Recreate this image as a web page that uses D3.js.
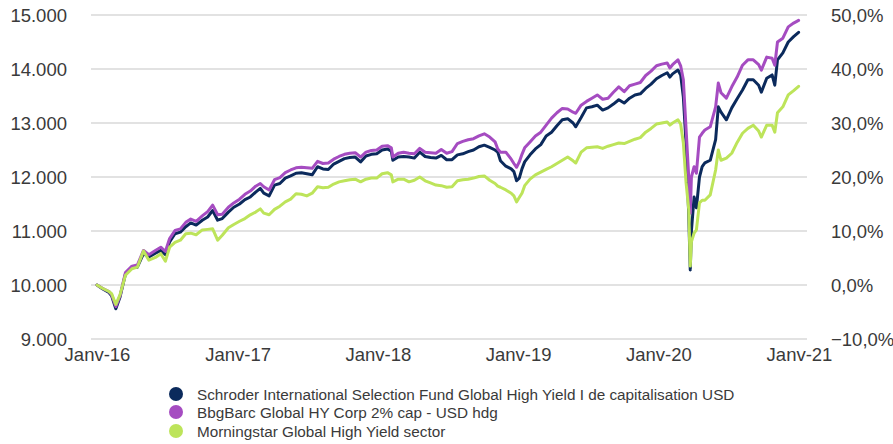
<!DOCTYPE html>
<html>
<head>
<meta charset="utf-8">
<script src="https://cdn.jsdelivr.net/npm/d3@7/dist/d3.min.js"></script>
<style>
  html, body { margin: 0; padding: 0; background: #ffffff; }
  svg { display: block; font-family: "Liberation Sans", Arial, sans-serif; }
</style>
</head>
<body>
<svg id="chart" width="893" height="444"></svg>
<script>
const dates = [
  "2016-01-01","2016-01-15","2016-02-01","2016-02-08","2016-02-19","2016-03-01","2016-03-15","2016-04-01","2016-04-15","2016-05-01",
  "2016-05-15","2016-06-01","2016-06-15","2016-06-27","2016-07-08","2016-07-22","2016-08-05","2016-08-19","2016-09-01","2016-09-15",
  "2016-10-01","2016-10-15","2016-10-28","2016-11-10","2016-11-22","2016-12-08","2016-12-22",
  "2017-01-06","2017-01-20","2017-02-03","2017-02-17","2017-03-01","2017-03-10","2017-03-24","2017-04-07","2017-04-21","2017-05-05",
  "2017-05-19","2017-06-02","2017-06-16","2017-06-30","2017-07-14","2017-07-28","2017-08-11","2017-08-25","2017-09-08","2017-09-22",
  "2017-10-06","2017-10-20","2017-11-03","2017-11-17","2017-12-01","2017-12-15","2017-12-29",
  "2018-01-12","2018-01-26","2018-02-05","2018-02-09","2018-02-23","2018-03-09","2018-03-23","2018-04-06","2018-04-20","2018-05-04",
  "2018-05-18","2018-06-01","2018-06-15","2018-06-29","2018-07-13","2018-07-27","2018-08-10","2018-08-24","2018-09-07","2018-09-21",
  "2018-10-05","2018-10-19","2018-11-02","2018-11-09","2018-11-16","2018-11-30","2018-12-14","2018-12-21","2018-12-28",
  "2019-01-04","2019-01-11","2019-01-18","2019-02-01","2019-02-15","2019-03-01","2019-03-15","2019-03-29","2019-04-12","2019-04-26",
  "2019-05-10","2019-05-24","2019-05-31","2019-06-14","2019-06-28","2019-07-12","2019-07-26","2019-08-09","2019-08-23","2019-09-06",
  "2019-09-20","2019-10-04","2019-10-18","2019-11-01","2019-11-15","2019-11-29","2019-12-13","2019-12-27",
  "2020-01-10","2020-01-24","2020-01-31","2020-02-07","2020-02-21","2020-02-28","2020-03-06","2020-03-13","2020-03-20","2020-03-24",
  "2020-03-27","2020-04-03","2020-04-09","2020-04-17","2020-04-24","2020-05-01","2020-05-15","2020-05-29","2020-06-05","2020-06-12",
  "2020-06-26","2020-07-10","2020-07-24","2020-08-07","2020-08-21","2020-09-04","2020-09-18","2020-09-25","2020-10-09","2020-10-23",
  "2020-10-30","2020-11-06","2020-11-20","2020-12-04","2020-12-18","2020-12-31"
];

const schroder = [
  10000,9930,9860,9800,9560,9780,10200,10330,10330,10580,
  10520,10590,10640,10560,10800,10950,10980,11080,11150,11110,
  11200,11260,11380,11200,11230,11350,11440,
  11500,11580,11630,11720,11790,11700,11650,11850,11880,11980,
  12020,12070,12080,12060,12040,12190,12150,12140,12240,12290,
  12340,12360,12370,12280,12390,12420,12430,
  12500,12520,12480,12310,12370,12380,12370,12350,12460,12380,
  12360,12350,12400,12320,12320,12410,12430,12470,12500,12560,
  12590,12550,12500,12460,12300,12200,12150,12100,11930,
  11980,12150,12280,12410,12520,12600,12760,12830,12950,13060,
  13080,13000,12930,13100,13280,13300,13330,13240,13280,13350,
  13430,13370,13460,13520,13540,13640,13720,13820,
  13880,13930,13850,13910,13980,13890,13480,12630,11300,10280,
  11000,11630,11430,12000,12190,12260,12310,12690,13300,13200,
  13060,13280,13450,13610,13800,13800,13700,13570,13830,13890,
  13700,14170,14300,14500,14600,14680
];

const bbgBarc = [
  10000,9940,9880,9820,9600,9800,10230,10350,10370,10640,
  10560,10640,10700,10620,10860,11010,11040,11160,11220,11180,
  11280,11360,11480,11300,11310,11440,11520,
  11590,11680,11740,11830,11880,11820,11760,11950,11990,12080,
  12130,12170,12180,12170,12160,12290,12250,12260,12330,12380,
  12420,12440,12450,12370,12460,12490,12500,
  12570,12580,12540,12370,12440,12460,12440,12430,12530,12460,
  12450,12440,12510,12440,12470,12620,12660,12690,12710,12760,
  12800,12740,12650,12520,12460,12460,12330,12250,12180,
  12280,12420,12540,12650,12760,12830,12960,13090,13190,13270,
  13260,13200,13180,13330,13400,13460,13520,13440,13460,13570,
  13670,13580,13690,13720,13750,13880,13960,14060,
  14090,14110,14020,14080,14170,14060,13800,12900,12000,11330,
  12000,12190,12070,12740,12810,12870,12930,13300,13740,13560,
  13460,13670,13850,14070,14170,14170,14080,13980,14220,14200,
  14070,14500,14570,14780,14850,14900
];

const morningstar = [
  10000,9940,9880,9840,9640,9820,10180,10300,10330,10630,
  10460,10510,10580,10440,10700,10790,10830,10950,10960,10930,
  11020,11030,11040,10830,10920,11060,11120,
  11180,11230,11300,11350,11410,11330,11300,11400,11460,11540,
  11590,11690,11680,11650,11700,11820,11800,11810,11870,11910,
  11930,11950,11960,11910,11960,11980,11980,
  12060,12080,12040,11910,11960,11960,11910,11940,12000,11930,
  11890,11850,11840,11810,11820,11930,11950,11960,11980,12010,
  12020,11940,11880,11830,11810,11760,11700,11650,11540,
  11620,11700,11840,11960,12040,12090,12140,12190,12250,12310,
  12370,12300,12260,12460,12540,12550,12560,12530,12570,12600,
  12630,12620,12660,12700,12730,12830,12900,12980,
  13000,13020,12960,13000,13060,12980,12630,11900,11400,10350,
  10800,10960,11020,11520,11570,11570,11670,12130,12500,12310,
  12350,12440,12640,12810,12900,12960,12850,12740,12960,12960,
  12830,13190,13300,13520,13600,13680
];

const leftTicks = [9000, 10000, 11000, 12000, 13000, 14000, 15000];
const rightTicks = [-10, 0, 10, 20, 30, 40, 50];
const xTickLabels = ["Janv-16","Janv-17","Janv-18","Janv-19","Janv-20","Janv-21"];
const seriesNames = [
  "Schroder International Selection Fund Global High Yield I de capitalisation USD",
  "BbgBarc Global HY Corp 2% cap - USD hdg",
  "Morningstar Global High Yield sector"
];
const seriesColors = ["#0b2a5c", "#a54cc1", "#bde45a"];

const parse = d3.timeParse("%Y-%m-%d");
const dateObjs = dates.map(parse);
const seriesValues = [schroder, bbgBarc, morningstar];

const svg = d3.select("#chart");
const x = d3.scaleTime()
  .domain([new Date(2016, 0, 1), new Date(2021, 0, 1)])
  .range([97, 799]);
const y = d3.scaleLinear().domain([9000, 15000]).range([339, 15]);
const yR = d3.scaleLinear().domain([-10, 50]).range([339, 15]);

const textColor = "#3a3a3a";
const axisFont = 18.5;

// gridlines
svg.append("g").selectAll("line").data(leftTicks).join("line")
  .attr("x1", 91).attr("x2", 807)
  .attr("y1", d => y(d)).attr("y2", d => y(d))
  .attr("stroke", "#e2e2e2").attr("stroke-width", 2);

// left axis
const fmtLeft = v => d3.format(",")(v).replace(/,/g, ".");
const leftAxis = d3.axisLeft(y).tickValues(leftTicks).tickFormat(fmtLeft).tickSize(0).tickPadding(0);
const gL = svg.append("g").attr("transform", "translate(67,0)").call(leftAxis);
gL.select(".domain").remove();
gL.selectAll("text").attr("font-size", axisFont).attr("fill", textColor)
  .attr("font-family", "'Liberation Sans', Arial, sans-serif").attr("dy", "0.36em");

// right axis
const fmtRight = v => d3.format(".1f")(v).replace(".", ",") + "%";
const rightAxis = d3.axisRight(yR).tickValues(rightTicks).tickFormat(fmtRight).tickSize(0).tickPadding(0);
const gR = svg.append("g").attr("transform", "translate(831,0)").call(rightAxis);
gR.select(".domain").remove();
gR.selectAll("text").attr("font-size", axisFont).attr("fill", textColor)
  .attr("font-family", "'Liberation Sans', Arial, sans-serif").attr("dy", "0.36em");

// x axis
const xTickDates = xTickLabels.map((_, i) => new Date(2016 + i, 0, 1));
const xAxis = d3.axisBottom(x).tickValues(xTickDates).tickFormat((d, i) => xTickLabels[i]).tickSize(0).tickPadding(0);
const gX = svg.append("g").attr("transform", "translate(0,348)").call(xAxis);
gX.select(".domain").remove();
gX.selectAll("text").attr("font-size", axisFont).attr("fill", textColor)
  .attr("font-family", "'Liberation Sans', Arial, sans-serif").attr("dy", "0.71em");

// lines
const line = d3.line().x((d, i) => x(dateObjs[i])).y(d => y(d)).curve(d3.curveLinear);
svg.append("g").selectAll("path").data(seriesValues).join("path")
  .attr("d", d => line(d))
  .attr("fill", "none")
  .attr("stroke", (d, i) => seriesColors[i])
  .attr("stroke-width", 3)
  .attr("stroke-linejoin", "round")
  .attr("stroke-linecap", "round");

// legend
const lg = svg.append("g");
const legendY = [394, 412, 431];
seriesNames.forEach((name, i) => {
  lg.append("circle").attr("cx", 176).attr("cy", legendY[i]).attr("r", 7).attr("fill", seriesColors[i]);
  lg.append("text").attr("x", 197).attr("y", legendY[i]).attr("dy", "0.36em")
    .attr("font-size", 15.3).attr("fill", textColor).text(name);
});
</script>
</body>
</html>
